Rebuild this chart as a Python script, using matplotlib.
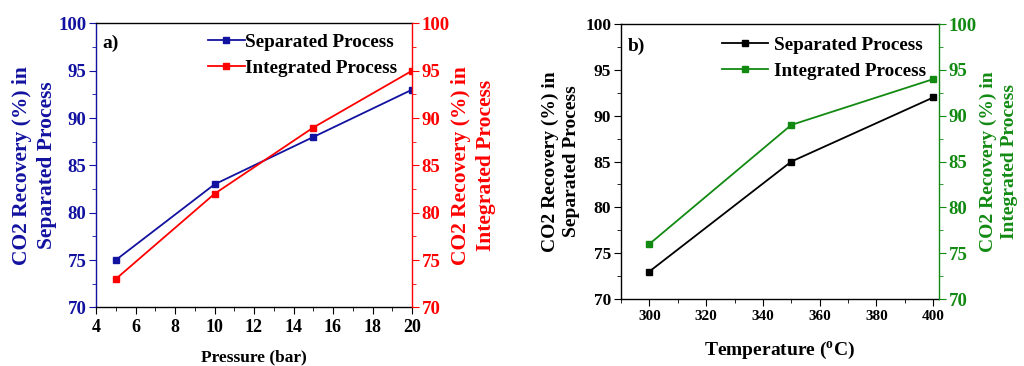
import matplotlib
matplotlib.use("Agg")
import matplotlib.pyplot as plt
from matplotlib.ticker import MultipleLocator

plt.rcParams['font.family'] = ['Liberation Serif', 'DejaVu Serif']
plt.rcParams['font.weight'] = 'bold'
plt.rcParams['mathtext.fontset'] = 'custom'
plt.rcParams['mathtext.rm'] = 'Liberation Serif:bold'
plt.rcParams['mathtext.it'] = 'Liberation Serif:bold'

# Panel a data
pressure = [5, 10, 15, 20]
sep_a = [75, 83, 88, 93]
int_a = [73, 82, 89, 95]

# Panel b data
temperature = [300, 350, 400]
sep_b = [73, 85, 92]
int_b = [76, 89, 94]

BLUE = '#1212a0'
RED = '#ff0000'
GREEN = '#128a12'
BLACK = '#000000'

fig = plt.figure(figsize=(10.24, 3.66), dpi=100)


def setup(ax, tw, lcol, rcol, xlim, xmaj, xmin, lfs, rfs, xfs):
    ax.set_ylim(70, 100)
    tw.set_ylim(70, 100)
    ax.set_xlim(*xlim)
    ax.xaxis.set_major_locator(MultipleLocator(xmaj))
    ax.xaxis.set_minor_locator(MultipleLocator(xmin))
    for a in (ax, tw):
        a.yaxis.set_major_locator(MultipleLocator(5))
        a.yaxis.set_minor_locator(MultipleLocator(2.5))
    ax.spines['left'].set_color(lcol)
    ax.spines['right'].set_visible(False)
    ax.spines['top'].set_color('black')
    ax.spines['bottom'].set_color('black')
    tw.spines['left'].set_visible(False)
    tw.spines['top'].set_visible(False)
    tw.spines['bottom'].set_visible(False)
    tw.spines['right'].set_color(rcol)
    for s in ('left', 'top', 'bottom'):
        ax.spines[s].set_linewidth(1.0)
    tw.spines['right'].set_linewidth(1.0)
    ax.tick_params(axis='y', which='both', direction='out', colors=lcol,
                   labelsize=lfs, pad=2)
    ax.tick_params(axis='y', which='major', length=5)
    ax.tick_params(axis='y', which='minor', length=3)
    ax.tick_params(axis='x', which='both', direction='out', colors='black',
                   labelsize=xfs, pad=3)
    ax.tick_params(axis='x', which='major', length=5)
    ax.tick_params(axis='x', which='minor', length=3)
    tw.tick_params(axis='y', which='both', direction='out', colors=rcol,
                   labelsize=rfs, pad=2)
    tw.tick_params(axis='y', which='major', length=5)
    tw.tick_params(axis='y', which='minor', length=3)
    for lab in ax.get_xticklabels() + ax.get_yticklabels() + tw.get_yticklabels():
        lab.set_fontweight('bold')


# ---------- Panel a ----------
ax1 = fig.add_axes([0.09375, 0.160, 0.3086, 0.776])
tw1 = ax1.twinx()
l1, = ax1.plot(pressure, sep_a, color=BLUE, lw=1.3, marker='s', ms=4,
               label='Separated Process')
l2, = tw1.plot(pressure, int_a, color=RED, lw=1.3, marker='s', ms=4,
               label='Integrated Process')
setup(ax1, tw1, BLUE, RED, (4, 20), 2, 1, 13.5, 13.5, 13)
ax1.set_xlabel('Pressure (bar)', fontsize=12.5, fontweight='bold', labelpad=10)
ax1.set_ylabel('CO2 Recovery (%) in\nSeparated Process', color=BLUE,
               fontsize=15.5, fontweight='bold', labelpad=0.5, linespacing=1.35)
tw1.set_ylabel('CO2 Recovery (%) in\nIntegrated Process', color=RED,
               fontsize=15.5, fontweight='bold', labelpad=0.5,
               linespacing=1.35)
ax1.text(0.02, 0.93, 'a)', transform=ax1.transAxes, fontsize=14,
         fontweight='bold', va='center', ha='left')
ax1.legend([l1, l2], ['Separated Process', 'Integrated Process'],
           loc='upper left', bbox_to_anchor=(0.355, 0.965), frameon=False,
           handlelength=1.9, handletextpad=0.0,
           borderpad=0, borderaxespad=0, labelspacing=0.45,
           prop={'weight': 'bold', 'size': 13.8})

# ---------- Panel b ----------
ax2 = fig.add_axes([0.6064, 0.183, 0.3105, 0.751])
tw2 = ax2.twinx()
l3, = ax2.plot(temperature, sep_b, color=BLACK, lw=1.3, marker='s', ms=4,
               label='Separated Process')
l4, = tw2.plot(temperature, int_b, color=GREEN, lw=1.3, marker='s', ms=4,
               label='Integrated Process')
setup(ax2, tw2, BLACK, GREEN, (290, 402), 20, 10, 12.5, 13.5, 11)
ax2.set_xlabel('Temperature ($^{o}$C)', fontsize=14, fontweight='bold',
               labelpad=12)
ax2.set_ylabel('CO2 Recovery (%) in\nSeparated Process', color=BLACK,
               fontsize=14, fontweight='bold', labelpad=3.5, linespacing=1.3)
tw2.set_ylabel('CO2 Recovery (%) in\nIntegrated Process', color=GREEN,
               fontsize=14, fontweight='bold', labelpad=2,
               linespacing=1.3)
ax2.text(0.02, 0.92, 'b)', transform=ax2.transAxes, fontsize=14,
         fontweight='bold', va='center', ha='left')
ax2.legend([l3, l4], ['Separated Process', 'Integrated Process'],
           loc='upper left', bbox_to_anchor=(0.318, 0.955), frameon=False,
           handlelength=2.4, handletextpad=0.3,
           borderpad=0, borderaxespad=0, labelspacing=0.45,
           prop={'weight': 'bold', 'size': 13.8})

fig.savefig('out.png', dpi=100)
